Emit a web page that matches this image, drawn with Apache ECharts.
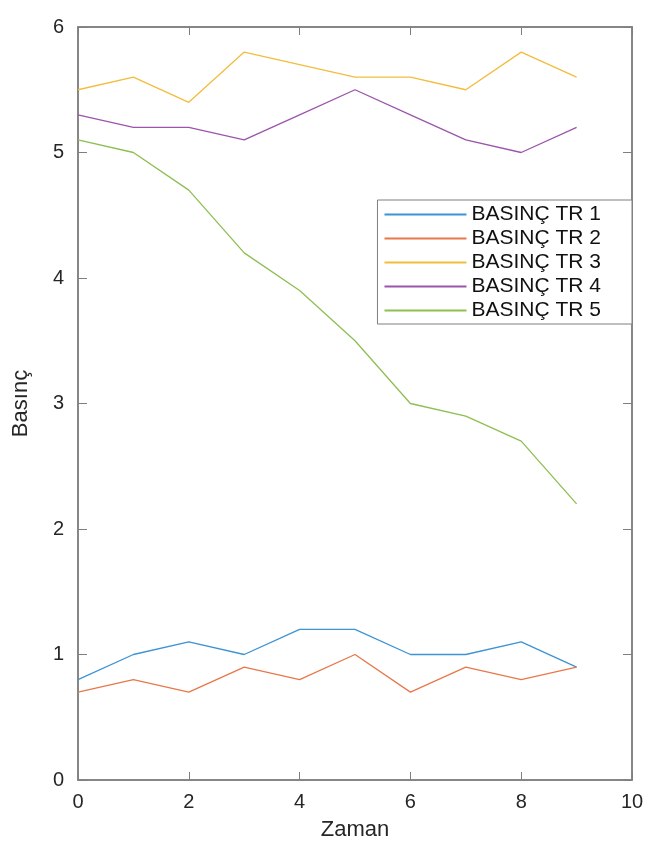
<!DOCTYPE html>
<html>
<head>
<meta charset="utf-8">
<script src="https://cdn.jsdelivr.net/npm/echarts@6/dist/echarts.min.js"></script>
<style>
  html, body { margin: 0; padding: 0; background: #fff; }
  #chart { width: 671px; height: 846px; }
</style>
</head>
<body>
<div id="chart"></div>
<script>
// zaman (x) and the five pressure series
var zaman = [0, 1, 2, 3, 4, 5, 6, 7, 8, 9];
var tr1 = [0.8, 1.0, 1.1, 1.0, 1.2, 1.2, 1.0, 1.0, 1.1, 0.9];
var tr2 = [0.7, 0.8, 0.7, 0.9, 0.8, 1.0, 0.7, 0.9, 0.8, 0.9];
var tr3 = [5.5, 5.6, 5.4, 5.8, 5.7, 5.6, 5.6, 5.5, 5.8, 5.6];
var tr4 = [5.3, 5.2, 5.2, 5.1, 5.3, 5.5, 5.3, 5.1, 5.0, 5.2];
var tr5 = [5.1, 5.0, 4.7, 4.2, 3.9, 3.5, 3.0, 2.9, 2.7, 2.2];
var seriesNames = ['BASINÇ TR 1', 'BASINÇ TR 2', 'BASINÇ TR 3', 'BASINÇ TR 4', 'BASINÇ TR 5'];
var colors = ['#3d93d3', '#e8784a', '#f2bd3c', '#9b55ab', '#8dbf52'];

var chart = echarts.init(document.getElementById('chart'));

function pairs(ys) {
  var out = [];
  for (var i = 0; i < zaman.length; i++) out.push([zaman[i], ys[i]]);
  return out;
}

var axisCol = '#7f7f7f';
var font = 'Liberation Sans, Arial, sans-serif';

var allData = [tr1, tr2, tr3, tr4, tr5];
var series = [];
for (var s = 0; s < allData.length; s++) {
  // TR 3 sits on the top/right twin axes (same ranges) so those get drawn too
  var twin = s === 2 ? 1 : 0;
  series.push({
    name: seriesNames[s],
    type: 'line',
    xAxisIndex: twin,
    yAxisIndex: twin,
    data: pairs(allData[s]),
    showSymbol: false,
    symbol: 'none',
    lineStyle: { width: 1.3, color: colors[s] },
    itemStyle: { color: colors[s] },
    animation: false
  });
}

chart.setOption({
  backgroundColor: '#fff',
  grid: { left: 78, right: 39, top: 27, bottom: 66, show: true, borderColor: axisCol, borderWidth: 1.5 },
  legend: {
    data: seriesNames,
    orient: 'vertical',
    right: 39,
    top: 200,
    itemWidth: 82,
    itemHeight: 2,
    itemGap: 3,
    padding: [4, 31, 3, 7],
    borderColor: '#7f7f7f',
    borderWidth: 1,
    backgroundColor: '#fff',
    icon: 'rect',
    textStyle: { fontSize: 21, color: '#111', fontFamily: font }
  },
  xAxis: [
    {
      type: 'value', min: 0, max: 10, interval: 2,
      name: 'Zaman', nameLocation: 'middle', nameGap: 39,
      nameTextStyle: { fontSize: 22, color: '#262626', fontFamily: font },
      axisLine: { show: true, onZero: false, lineStyle: { color: axisCol, width: 1.5 } },
      axisTick: { show: true, inside: true, length: 8, lineStyle: { color: axisCol } },
      axisLabel: { fontSize: 20, color: '#262626', fontFamily: font, margin: 12 },
      splitLine: { show: false }
    },
    {
      type: 'value', min: 0, max: 10, interval: 2, position: 'top',
      axisLine: { show: true, onZero: false, lineStyle: { color: axisCol, width: 1.5 } },
      axisTick: { show: true, inside: true, length: 8, lineStyle: { color: axisCol } },
      axisLabel: { show: false },
      splitLine: { show: false }
    }
  ],
  yAxis: [
    {
      type: 'value', min: 0, max: 6, interval: 1,
      name: 'Basınç', nameLocation: 'middle', nameGap: 46, nameRotate: 90,
      nameTextStyle: { fontSize: 22, color: '#262626', fontFamily: font },
      axisLine: { show: true, onZero: false, lineStyle: { color: axisCol, width: 1.5 } },
      axisTick: { show: true, inside: true, length: 9, lineStyle: { color: axisCol } },
      axisLabel: { fontSize: 20, color: '#262626', fontFamily: font, margin: 14 },
      splitLine: { show: false }
    },
    {
      type: 'value', min: 0, max: 6, interval: 1, position: 'right',
      axisLine: { show: true, onZero: false, lineStyle: { color: axisCol, width: 1.5 } },
      axisTick: { show: true, inside: true, length: 9, lineStyle: { color: axisCol } },
      axisLabel: { show: false },
      splitLine: { show: false }
    }
  ],
  series: series
});
</script>
</body>
</html>
